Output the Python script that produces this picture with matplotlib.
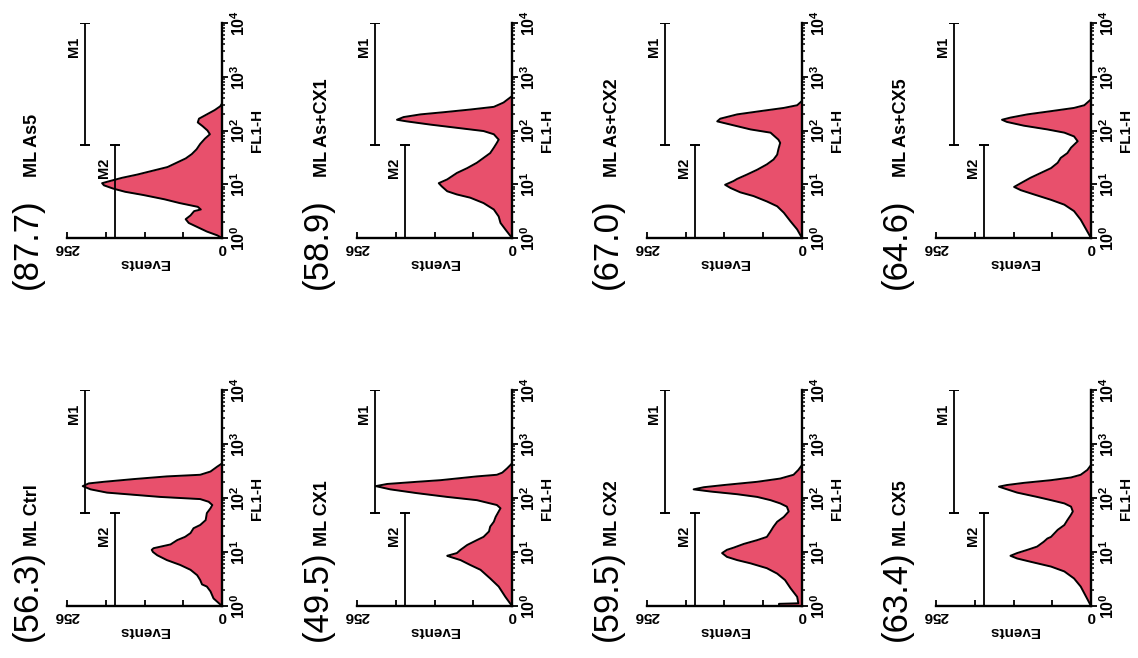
import numpy as np
import matplotlib.pyplot as plt
from matplotlib.ticker import NullFormatter, LogLocator

plt.rcParams["font.family"] = ["Liberation Sans", "DejaVu Sans"]
plt.rcParams["mathtext.fontset"] = "custom"
plt.rcParams["mathtext.rm"] = "Liberation Sans:bold"
plt.rcParams["mathtext.it"] = "Liberation Sans:bold"
plt.rcParams["mathtext.bf"] = "Liberation Sans:bold"

# Panel titles (top row first, then bottom row)
names = ["ML As5", "ML As+CX1", "ML As+CX2", "ML As+CX5",
         "ML Ctrl", "ML CX1", "ML CX2", "ML CX5"]
percents = ["87.7", "58.9", "67.0", "64.6", "56.3", "49.5", "59.5", "63.4"]

# Histogram outlines: log10(FL1-H) and Events
as5_log = [0.00, 0.05, 0.12, 0.20, 0.28, 0.35, 0.42, 0.50, 0.53, 0.58, 0.65, 0.72, 0.80,
           0.86, 0.92, 0.98, 1.02, 1.06, 1.12, 1.18, 1.25, 1.32, 1.40, 1.48, 1.56, 1.65,
           1.75, 1.85, 1.93, 2.00, 2.08, 2.15, 2.22, 2.30, 2.38, 2.45, 2.50]
as5_ev = [0, 8, 25, 40, 55, 60, 52, 46, 35, 40, 70, 95, 130, 160, 180, 195, 198, 185, 165,
          140, 115, 90, 75, 60, 50, 42, 36, 28, 20, 24, 32, 40, 38, 25, 12, 3, 0]

ascx1_log = [0.00, 0.16, 0.28, 0.40, 0.53, 0.65, 0.75, 0.81, 0.87, 0.96, 1.02, 1.09, 1.21,
             1.30, 1.40, 1.49, 1.58, 1.68, 1.77, 1.83, 1.93, 1.99, 2.05, 2.11, 2.17, 2.20,
             2.25, 2.30, 2.34, 2.39, 2.44, 2.52, 2.64]
ascx1_ev = [0, 11, 19, 22, 30, 47, 69, 91, 107, 116, 121, 107, 91, 74, 58, 47, 36, 30, 25,
            22, 30, 47, 91, 135, 174, 190, 179, 151, 113, 69, 30, 14, 0]

ascx2_log = [0.00, 0.16, 0.31, 0.47, 0.59, 0.68, 0.78, 0.85, 0.93, 0.99, 1.06, 1.10, 1.18,
             1.27, 1.37, 1.46, 1.55, 1.65, 1.77, 1.83, 1.96, 2.02, 2.11, 2.17, 2.22, 2.30,
             2.36, 2.42, 2.47, 2.55]
ascx2_ev = [0, 8, 19, 30, 41, 58, 80, 102, 118, 127, 113, 107, 91, 74, 58, 47, 41, 39, 36,
            39, 52, 85, 118, 140, 135, 107, 69, 30, 8, 0]

ascx5_log = [0.00, 0.16, 0.34, 0.50, 0.62, 0.71, 0.81, 0.89, 0.95, 1.02, 1.12, 1.21, 1.30,
             1.40, 1.49, 1.58, 1.68, 1.80, 1.89, 1.96, 2.02, 2.09, 2.16, 2.20, 2.24, 2.30,
             2.36, 2.42, 2.47, 2.58]
ascx5_ev = [0, 8, 17, 28, 44, 66, 94, 116, 127, 116, 100, 83, 66, 55, 50, 39, 33, 22, 28,
            44, 72, 111, 139, 147, 133, 105, 66, 28, 11, 0]

ctrl_log = [0.00, 0.14, 0.27, 0.36, 0.40, 0.48, 0.57, 0.67, 0.76, 0.85, 0.94, 1.00, 1.04,
            1.07, 1.14, 1.22, 1.28, 1.35, 1.44, 1.50, 1.59, 1.72, 1.81, 1.87, 1.93, 1.98,
            2.02, 2.06, 2.10, 2.16, 2.22, 2.27, 2.30, 2.35, 2.40, 2.43, 2.49, 2.58, 2.64]
ctrl_ev = [0, 14, 19, 25, 33, 36, 41, 52, 69, 91, 107, 114, 116, 113, 85, 74, 61, 52, 47,
           36, 27, 25, 19, 16, 22, 36, 102, 146, 190, 217, 230, 220, 195, 146, 91, 36, 19, 8, 0]

cx1_log = [0.00, 0.17, 0.36, 0.51, 0.67, 0.76, 0.85, 0.91, 0.93, 0.98, 1.04, 1.13, 1.22,
           1.28, 1.38, 1.47, 1.56, 1.65, 1.75, 1.81, 1.87, 1.90, 1.96, 2.02, 2.09, 2.16,
           2.22, 2.26, 2.30, 2.33, 2.40, 2.43, 2.47, 2.55, 2.64]
cx1_ev = [0, 11, 22, 36, 52, 69, 85, 102, 107, 91, 85, 74, 58, 47, 38, 36, 30, 27, 22, 19,
          25, 36, 58, 107, 157, 201, 225, 206, 157, 118, 58, 25, 16, 8, 0]

cx2_log = [0.00, 0.04, 0.05, 0.17, 0.33, 0.48, 0.60, 0.70, 0.79, 0.85, 0.91, 0.98, 1.04,
           1.08, 1.15, 1.22, 1.28, 1.38, 1.47, 1.56, 1.65, 1.75, 1.84, 1.90, 1.96, 2.02,
           2.07, 2.12, 2.16, 2.20, 2.24, 2.30, 2.36, 2.43, 2.52, 2.61]
cx2_ev = [38, 38, 6, 8, 19, 28, 41, 58, 85, 107, 124, 132, 124, 113, 96, 74, 58, 52, 47,
          41, 30, 22, 25, 36, 52, 74, 107, 151, 179, 162, 129, 74, 36, 14, 6, 0]

cx5_log = [0.00, 0.17, 0.36, 0.51, 0.64, 0.73, 0.82, 0.88, 0.93, 0.98, 1.04, 1.10, 1.19,
           1.25, 1.28, 1.41, 1.50, 1.59, 1.69, 1.75, 1.84, 1.90, 1.96, 2.02, 2.10, 2.18,
           2.21, 2.24, 2.28, 2.33, 2.38, 2.43, 2.52, 2.61]
cx5_ev = [0, 8, 17, 28, 44, 66, 100, 122, 133, 122, 105, 89, 78, 72, 66, 55, 44, 39, 33,
          30, 33, 44, 66, 89, 122, 144, 152, 139, 111, 66, 33, 17, 6, 0]

logs = [as5_log, ascx1_log, ascx2_log, ascx5_log, ctrl_log, cx1_log, cx2_log, cx5_log]
events = [as5_ev, ascx1_ev, ascx2_ev, ascx5_ev, ctrl_ev, cx1_ev, cx2_ev, cx5_ev]

# Gate markers M1 / M2 (FL1-H range, events height)
m1_range = [10 ** 1.73, 1e4]
m1_height = 226
m2_range = [1, 10 ** 1.73]
m2_height = 177

fill_color = "#E8506C"

# Figure layout in pixels
W, H = 1138, 658
fig = plt.figure(figsize=(W / 100, H / 100), dpi=100)
col_left = [67, 357, 647, 936]
ax_w = 155
row_top = [23, 390]
row_bot = [238, 606]
pct_y = [289, 641]
name_y = [177, 546]

for i in range(8):
    row, col = divmod(i, 4)
    left = col_left[col]
    ax = fig.add_axes([left / W, 1 - row_bot[row] / H, ax_w / W,
                       (row_bot[row] - row_top[row]) / H])
    fl = 10 ** np.array(logs[i])
    ax.fill_betweenx(fl, events[i], 0, color=fill_color, lw=0)
    ax.plot(events[i], fl, color="black", lw=1.4)

    # Gates
    ax.plot([m1_height, m1_height], m1_range, color="black", lw=1.3,
            marker="_", ms=7, mew=1.4)
    ax.plot([m2_height, m2_height], m2_range, color="black", lw=1.3,
            marker="_", ms=7, mew=1.4)
    ax.annotate("M1", (m1_height, 10 ** 3.55), xytext=(-3, 0), textcoords="offset points",
                ha="right", va="center", rotation=90, fontsize=10.5, fontweight="bold")
    ax.annotate("M2", (m2_height, 10 ** 1.3), xytext=(-3, 0), textcoords="offset points",
                ha="right", va="center", rotation=90, fontsize=10.5, fontweight="bold")

    ax.set_yscale("log")
    ax.set_ylim(1, 1e4)
    ax.set_xlim(256, 0)
    ax.spines[["top", "left"]].set_visible(False)
    ax.spines["right"].set_linewidth(1.7)
    ax.spines["bottom"].set_linewidth(1.7)
    ax.patch.set_alpha(0)

    # FL1-H axis (right side)
    ax.yaxis.tick_right()
    ax.yaxis.set_label_position("right")
    ax.set_yticks([1, 10, 100, 1000, 10000])
    ax.set_yticklabels(["$10^0$", "$10^1$", "$10^2$", "$10^3$", "$10^4$"],
                       rotation=90, va="center", fontsize=11.5)
    ax.yaxis.set_minor_locator(LogLocator(subs=np.arange(2, 10)))
    ax.yaxis.set_minor_formatter(NullFormatter())
    ax.tick_params(axis="y", which="major", direction="out", length=4, width=1.3, pad=1)
    ax.tick_params(axis="y", which="minor", direction="out", length=2.5, width=1.1)
    ax.set_ylabel("FL1-H", rotation=90, fontsize=11, fontweight="bold", labelpad=2)

    # Events axis (bottom)
    ax.set_xticks([0, 64, 128, 192, 256])
    ax.set_xticklabels(["0", "", "", "", "256"], rotation=180, fontsize=11,
                       fontweight="bold")
    ax.tick_params(axis="x", direction="in", length=4, width=1.3, pad=2)
    ax.set_xlabel("Events", rotation=180, fontsize=11, fontweight="bold", labelpad=1)

    # Titles
    fig.text((left - 30) / W, 1 - pct_y[row] / H, "(" + percents[i] + ")", rotation=90,
             rotation_mode="anchor", ha="left", va="baseline", fontsize=25)
    fig.text((left - 30) / W, 1 - name_y[row] / H, names[i], rotation=90,
             rotation_mode="anchor", ha="left", va="baseline", fontsize=13,
             fontweight="bold")

plt.savefig("out.png", dpi=100)
